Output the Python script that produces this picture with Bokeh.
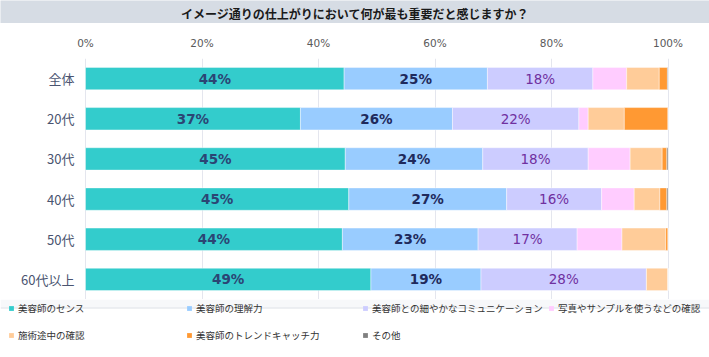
from bokeh.plotting import figure
from bokeh.models import (ColumnDataSource, FactorRange, Range1d, FixedTicker,
                          PrintfTickFormatter, Legend, LegendItem, BoxAnnotation)
from bokeh.layouts import column
from bokeh.embed import file_html
from bokeh.resources import INLINE
from bokeh.core.properties import value

title_text = "イメージ通りの仕上がりにおいて何が最も重要だと感じますか？"
categories = ["全体", "20代", "30代", "40代", "50代", "60代以上"]
series_names = ["美容師のセンス", "美容師の理解力", "美容師との細やかなコミュニケーション",
                "写真やサンプルを使うなどの確認", "施術途中の確認", "美容師のトレンドキャッチ力", "その他"]
sense = [44.4, 36.9, 44.6, 45.2, 44.1, 49.0]
understand = [24.6, 26.1, 23.6, 27.1, 23.3, 18.9]
communication = [18.1, 21.7, 18.1, 16.3, 17.0, 28.4]
photo_check = [5.8, 1.6, 7.2, 5.6, 7.7, 0.0]
midway_check = [5.6, 6.2, 5.5, 4.4, 7.5, 3.7]
trend = [1.4, 7.5, 0.8, 1.2, 0.4, 0.0]
other = [0.1, 0.0, 0.2, 0.2, 0.0, 0.0]
tick_values = [0, 20, 40, 60, 80, 100]

colors = ["#33CCCC", "#99CCFF", "#CCCCFF", "#FFCCFF", "#FFCC99", "#FF9933", "#808080"]
label_colors = ["#2B4574", "#1F2A5C", "#7030A0"]
label_styles = ["bold", "bold", "normal"]
FONT = "Noto Sans CJK JP"
NUM_FONT = "DejaVu Sans"

W = 709
PLOT_LEFT, PLOT_RIGHT = 85.0, 667.5          # pixel span of 0% .. 100%
px_per_unit = (PLOT_RIGHT - PLOT_LEFT) / 100.0
x_start = -PLOT_LEFT / px_per_unit
x_end = 100.0 + (W - PLOT_RIGHT) / px_per_unit

series = [sense, understand, communication, photo_check, midway_check, trend, other]
keys = ["s%d" % i for i in range(len(series))]
data = {"cat": categories}
for k, s in zip(keys, series):
    data[k] = s
source = ColumnDataSource(data)

# ---- title strip ----
tf = figure(width=W, height=23, x_range=Range1d(0, 1), y_range=Range1d(0, 1),
            toolbar_location=None, output_backend="svg", min_border=0,
            x_axis_location=None, y_axis_location=None)
tf.grid.visible = False
tf.outline_line_color = None
tf.background_fill_color = "#D6DCE4"
tf.border_fill_color = "#D6DCE4"
tf.text(x=[0.5], y=[0.45], text=[title_text], text_align="center", text_baseline="middle",
        text_font=value(FONT), text_font_size="12px", text_font_style="bold", text_color="#1A1A1A")

# ---- main chart (frame spans full width; 0..100 mapped to the bar area) ----
p = figure(width=W, height=276, x_range=Range1d(x_start, x_end),
           y_range=FactorRange(factors=list(reversed(categories))),
           x_axis_location="above", y_axis_location=None,
           toolbar_location=None, output_backend="svg",
           min_border_left=0, min_border_right=0, min_border_top=35, min_border_bottom=0)
p.outline_line_color = None
p.background_fill_color = "white"
p.border_fill_color = "white"

renderers = p.hbar_stack(keys, y="cat", height=0.557, color=colors, source=source,
                         line_color="white", line_width=0.6, line_alpha=0.7)

# category labels left of the bars
p.text(x=[0] * len(categories), y=categories, text=categories, x_offset=-11,
       text_align="right", text_baseline="middle", text_font=value(FONT),
       text_font_size="13px", text_color="#4A5470")

# value labels for the first three series
for i in range(3):
    xs, ys, txt = [], [], []
    for r, cat in enumerate(categories):
        start = sum(series[j][r] for j in range(i))
        v = series[i][r]
        xs.append(start + v / 2.0)
        ys.append(cat)
        txt.append("%d%%" % int(round(v)))
    p.text(x=xs, y=ys, text=txt, text_align="center", text_baseline="middle",
           text_font=value(NUM_FONT), text_font_size="13.5px", text_font_style=label_styles[i],
           text_color=label_colors[i])

# x axis (above)
xa = p.xaxis[0]
xa.ticker = FixedTicker(ticks=tick_values)
xa.formatter = PrintfTickFormatter(format="%d%%")
xa.axis_line_color = None
xa.major_tick_line_color = None
xa.minor_tick_line_color = None
xa.major_tick_out = 0
xa.major_tick_in = 0
xa.major_label_standoff = 10
xa.major_label_text_font = NUM_FONT
xa.major_label_text_font_size = "10.5px"
xa.major_label_text_color = "#5A5A5A"

p.xgrid.ticker = FixedTicker(ticks=tick_values)
p.xgrid.grid_line_color = "#E4E6EE"
p.ygrid.grid_line_color = None

# ---- legend strip ----
lf = figure(width=W, height=58, x_range=Range1d(0, 1), y_range=Range1d(0, 1),
            toolbar_location=None, output_backend="svg", min_border=0,
            x_axis_location=None, y_axis_location=None)
lf.grid.visible = False
lf.outline_line_color = None
lf.background_fill_color = "white"
lf.border_fill_color = "white"
lf.add_layout(BoxAnnotation(left=0, right=W, top=50, bottom=58,
                            left_units="screen", right_units="screen",
                            top_units="screen", bottom_units="screen",
                            fill_color="#F7F8FA", fill_alpha=1, line_color=None))
lf.add_layout(BoxAnnotation(left=0, right=W, top=49, bottom=50,
                            left_units="screen", right_units="screen",
                            top_units="screen", bottom_units="screen",
                            fill_color="#DCDFE5", fill_alpha=1, line_color=None))
# legend proxies (kept outside the visible range of this strip)
swatches = [lf.quad(left=[-3], right=[-2], top=[-2], bottom=[-3], fill_color=c, line_color=None)
            for c in colors]

col_items = [[0, 4], [1, 5], [2, 6], [3]]
col_x = [8, 186, 362, 548]
for idxs, cx in zip(col_items, col_x):
    items = [LegendItem(label=series_names[k], renderers=[swatches[k]]) for k in idxs]
    h = 18 * len(idxs) + 9 * (len(idxs) - 1)
    leg = Legend(items=items, location=(cx, 58 - h), orientation="vertical",
                 glyph_width=6, glyph_height=6, label_standoff=4, label_height=18,
                 spacing=9, padding=0, margin=0, border_line_color=None,
                 background_fill_alpha=0, label_text_font=FONT,
                 label_text_font_size="9.5px", label_text_color="#333333")
    lf.add_layout(leg)

layout = column(tf, p, lf, spacing=0)
open("out.html", "w").write(file_html(layout, INLINE))
